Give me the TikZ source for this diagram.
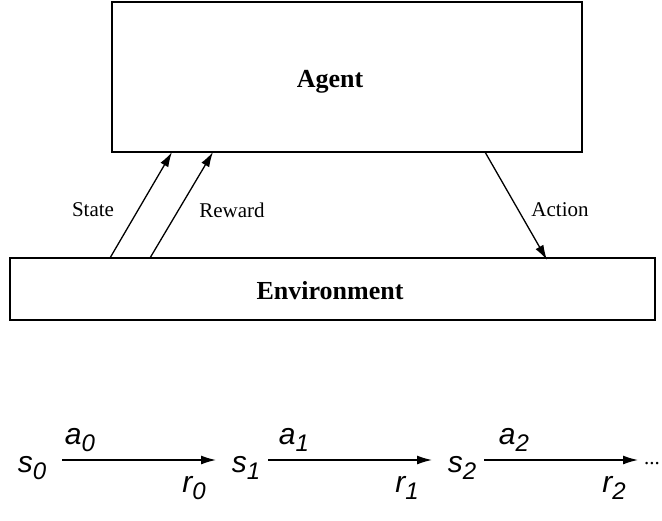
\documentclass[tikz,border=0pt]{standalone}
\usepackage{fontspec}
\setmainfont{Liberation Serif}
\newfontfamily\symfont{Liberation Sans}
\usetikzlibrary{arrows.meta}
\newcommand{\mysym}[2]{{\symfont\itshape\fontsize{30}{32}\selectfont #1}\raisebox{-7pt}{\symfont\itshape\fontsize{24}{26}\selectfont #2}}
\begin{document}
\begin{tikzpicture}[x=1pt,y=-1pt,
  box/.style={draw,line width=1.4pt},
  arr/.style={line width=1.3pt,-{Latex[length=15pt,width=9pt]}},
  lab/.style={font=\fontsize{21}{24}\selectfont},
  sym/.style={inner sep=0pt}]
\useasboundingbox (0,0) rectangle (662,520);
\node[box,minimum width=470pt,minimum height=150pt] (agent) at (347,77) {};
\node[font=\bfseries\fontsize{26}{30}\selectfont] at (330,82) {Agent};
\node[box,minimum width=645pt,minimum height=62pt] (env) at (332.5,289) {};
\node[font=\bfseries\fontsize{26}{30}\selectfont] at (330,291) {Environment};
\coordinate (s1) at (110,258); \coordinate (s2) at (172,152);
\coordinate (r1) at (150,258); \coordinate (r2) at (213,152);
\coordinate (a1) at (485,152); \coordinate (a2) at (547,260);
\draw[arr] (s1) -- (s2); \draw[arr] (r1) -- (r2); \draw[arr] (a1) -- (a2);
\node[lab] at (93,210) {State};
\node[lab] at (232,210) {Reward};
\node[lab] at (560,210) {Action};
\node[sym] (n0) at (32,468) {\mysym{s}{0}};
\node[sym] (n1) at (246,468) {\mysym{s}{1}};
\node[sym] (n2) at (462,468) {\mysym{s}{2}};
\node[lab,anchor=east,inner sep=0pt] (nd) at (660,464) {...};
\draw[arr] (62,460) -- (216,460);
\draw[arr] (268,460) -- (432,460);
\draw[arr] (484,460) -- (638,460);
\node[sym] at (80,440) {\mysym{a}{0}};
\node[sym] at (294,440) {\mysym{a}{1}};
\node[sym] at (514,440) {\mysym{a}{2}};
\node[sym] at (194,488) {\mysym{r}{0}};
\node[sym] at (407,488) {\mysym{r}{1}};
\node[sym] at (614,488) {\mysym{r}{2}};
\end{tikzpicture}
\end{document}
